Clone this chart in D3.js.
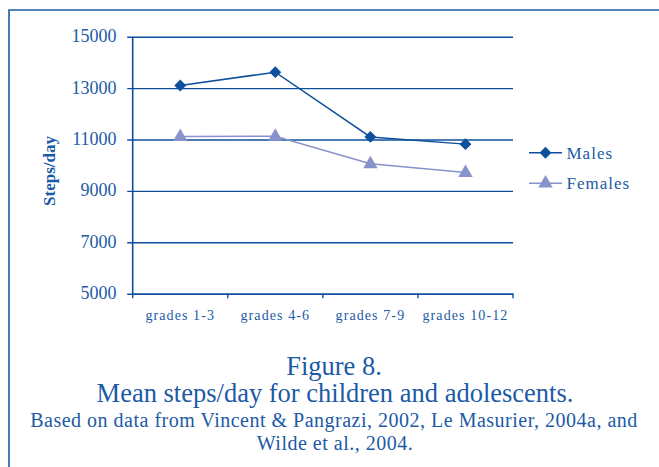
<!DOCTYPE html>
<html>
<head>
<meta charset="utf-8">
<script src="https://cdn.jsdelivr.net/npm/d3@7"></script>
<style>
  html, body { margin: 0; padding: 0; background: #fff; }
  svg { display: block; }
</style>
</head>
<body>
<svg id="chart" width="659" height="467"></svg>
<script>
// Mean steps per day by grade group
const grades = ["grades 1-3", "grades 4-6", "grades 7-9", "grades 10-12"];
const males = [13100, 13620, 11100, 10820];
const females = [11120, 11130, 10060, 9720];
const yTicks = [5000, 7000, 9000, 11000, 13000, 15000];
const seriesNames = ["Males", "Females"];

const lineDark = "#0e4f9d";
const lineLight = "#8892cb";
const textColor = "#1c5aa6";
const serif = "'Liberation Serif', Tinos, 'Times New Roman', Times, 'DejaVu Serif', serif";

const svg = d3.select("#chart")
  .attr("font-family", serif)
  .attr("fill", textColor);

// frame around the figure
svg.append("path")
  .attr("d", "M9,470 L9,10 L662,10")
  .attr("fill", "none")
  .attr("stroke", "#1d5ba8")
  .attr("stroke-width", 1.6);

const plot = { left: 132.7, right: 513, top: 36.7, bottom: 293.7 };

const x = d3.scaleBand().domain(grades).range([plot.left, plot.right]).padding(0);
const y = d3.scaleLinear().domain([5000, 15000]).range([plot.bottom, plot.top]);

// horizontal grid lines with left tick marks
const yAxis = d3.axisLeft(y).tickValues(yTicks).tickSize(0).tickPadding(0).tickFormat(d3.format("d"));
const yg = svg.append("g").attr("transform", `translate(${plot.left},0)`).call(yAxis);
yg.attr("font-family", null);
yg.select(".domain").remove();
yg.selectAll(".tick text").remove();
yg.selectAll(".tick").append("line")
  .attr("x1", -5.5).attr("x2", plot.right - plot.left)
  .attr("stroke", lineDark).attr("stroke-width", 1.4);

// y tick labels
svg.append("g").selectAll("text").data(yTicks).join("text")
  .attr("x", 116.5)
  .attr("y", d => y(d) + 5.5)
  .attr("text-anchor", "end")
  .attr("font-size", 18)
  .text(d => d);

// left axis line
svg.append("line")
  .attr("x1", plot.left).attr("x2", plot.left)
  .attr("y1", plot.top).attr("y2", plot.bottom)
  .attr("stroke", lineDark).attr("stroke-width", 1.6);

// x axis with ticks at category boundaries
const xAxis = d3.axisBottom(x).tickSize(0).tickFormat("");
const xg = svg.append("g").attr("transform", `translate(0,${plot.bottom})`).call(xAxis);
xg.select(".domain").attr("stroke", lineDark).attr("stroke-width", 1.6);
xg.selectAll(".tick").remove();
const bounds = grades.map(g => x(g)).concat([x(grades[grades.length - 1]) + x.bandwidth()]);
xg.selectAll("line.bound").data(bounds).join("line")
  .attr("class", "bound")
  .attr("x1", d => d).attr("x2", d => d)
  .attr("y1", 0).attr("y2", 4.5)
  .attr("stroke", lineDark).attr("stroke-width", 1.4);

// category labels
svg.append("g").selectAll("text").data(grades).join("text")
  .attr("x", d => x(d) + x.bandwidth() / 2)
  .attr("y", 320)
  .attr("text-anchor", "middle")
  .attr("font-size", 14)
  .attr("letter-spacing", 1.1)
  .text(d => d);

// y axis title
svg.append("text")
  .attr("transform", "translate(55,171) rotate(-90)")
  .attr("text-anchor", "middle")
  .attr("font-size", 17)
  .attr("font-weight", "bold")
  .text("Steps/day");

const cx = d => x(d) + x.bandwidth() / 2;
const line = d3.line().x(d => cx(d.g)).y(d => y(d.v));

const maleData = grades.map((g, i) => ({ g, v: males[i] }));
const femaleData = grades.map((g, i) => ({ g, v: females[i] }));

const diamond = d3.symbol().type(d3.symbolDiamond2).size(90);
const triangle = d3.symbol().type(d3.symbolTriangle).size(90);

// females series
svg.append("path").datum(femaleData)
  .attr("d", line).attr("fill", "none")
  .attr("stroke", lineLight).attr("stroke-width", 1.5);
svg.append("g").selectAll("path").data(femaleData).join("path")
  .attr("d", triangle)
  .attr("transform", d => `translate(${cx(d.g)},${y(d.v) + 0.5})`)
  .attr("fill", lineLight);

// males series
svg.append("path").datum(maleData)
  .attr("d", line).attr("fill", "none")
  .attr("stroke", lineDark).attr("stroke-width", 1.5);
svg.append("g").selectAll("path").data(maleData).join("path")
  .attr("d", diamond)
  .attr("transform", d => `translate(${cx(d.g)},${y(d.v)})`)
  .attr("fill", lineDark);

// legend
const legendColors = [lineDark, lineLight];
const legendSymbols = [diamond, triangle];
const lg = svg.append("g").selectAll("g").data(seriesNames).join("g")
  .attr("transform", (d, i) => `translate(529,${152.7 + i * 30.6})`);
lg.append("line")
  .attr("x1", 0).attr("x2", 33)
  .attr("stroke", (d, i) => legendColors[i]).attr("stroke-width", 1.5);
lg.append("path")
  .attr("d", (d, i) => legendSymbols[i]())
  .attr("transform", "translate(16.5,0)")
  .attr("fill", (d, i) => legendColors[i]);
lg.append("text")
  .attr("x", 37.5).attr("y", 6)
  .attr("font-size", 17)
  .attr("letter-spacing", 1)
  .text(d => d);

// caption
const caption = svg.append("g").attr("text-anchor", "middle");
caption.append("text").attr("x", 334).attr("y", 375)
  .attr("font-size", 26.5).text("Figure 8.");
caption.append("text").attr("x", 335).attr("y", 402)
  .attr("font-size", 26.5).text("Mean steps/day for children and adolescents.");
caption.append("text").attr("x", 334).attr("y", 427)
  .attr("font-size", 20).attr("letter-spacing", 0.5)
  .text("Based on data from Vincent & Pangrazi, 2002, Le Masurier, 2004a, and");
caption.append("text").attr("x", 335).attr("y", 450)
  .attr("font-size", 20).attr("letter-spacing", 0.5)
  .text("Wilde et al., 2004.");
</script>
</body>
</html>
